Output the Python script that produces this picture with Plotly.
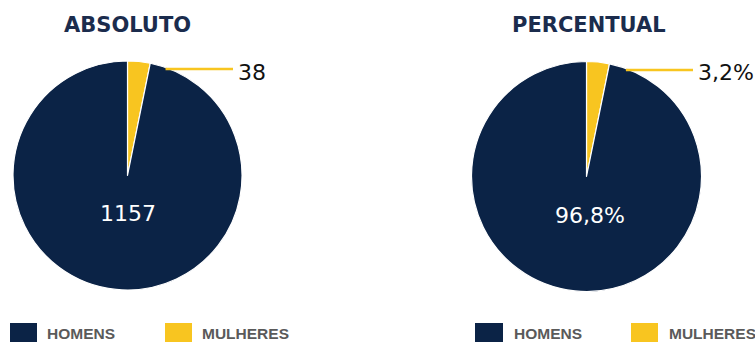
import math
import plotly.graph_objects as go

W, H = 755, 342

categories = ["MULHERES", "HOMENS"]
abs_values = [38, 1157]
pct_values = [3.2, 96.8]
pct_labels = ["3,2%", "96,8%"]
titles = ["ABSOLUTO", "PERCENTUAL"]
colors = ["#f8c520", "#0b2346"]
title_color = "#1b2c4d"
legend_text_color = "#5a5a5a"
FONT = "DejaVu Sans, Arial, sans-serif"
LEG_FONT = "Liberation Sans, Arial, sans-serif"

# pie geometry in pixels: (cx, cy, r)
pies = [(127.5, 175.5, 114.5), (586.5, 176.5, 115.0)]


def px(x):
    return x / W


def py(y):
    return 1 - y / H


fig = go.Figure()

value_texts = [[str(v) for v in abs_values], pct_labels]
for i, vals in enumerate([abs_values, pct_values]):
    cx, cy, r = pies[i]
    fig.add_trace(go.Pie(
        labels=categories,
        values=vals,
        text=value_texts[i],
        textinfo="none",
        sort=False,
        direction="clockwise",
        rotation=0,
        marker=dict(colors=colors, line=dict(color="white", width=1.2)),
        domain=dict(x=[px(cx - r), px(cx + r)], y=[py(cy + r), py(cy - r)]),
        showlegend=False,
        hoverinfo="label+text",
    ))

shapes = []
annotations = []

# titles
title_pos = [(127, 24.5), (589, 25)]
for t, (tx, ty) in zip(titles, title_pos):
    annotations.append(dict(x=px(tx), y=py(ty), xref="paper", yref="paper",
                            text=f"<b>{t}</b>", showarrow=False,
                            font=dict(family=FONT, size=21, color=title_color),
                            xanchor="center", yanchor="middle"))

# big-slice labels inside the pie
big_offsets = [(0.5, 38), (3.5, 39)]
for i in range(2):
    cx, cy, r = pies[i]
    dx, dy = big_offsets[i]
    annotations.append(dict(x=px(cx + dx), y=py(cy + dy), xref="paper", yref="paper",
                            text=value_texts[i][1], showarrow=False,
                            font=dict(family=FONT, size=22, color="white"),
                            xanchor="center", yanchor="middle"))

# small-slice labels with horizontal leader line
lead_y = [69, 70]
lead_end = [233, 693]
for i in range(2):
    cx, cy, r = pies[i]
    ly = lead_y[i]
    x0 = cx + math.sqrt(max(r * r - (cy - ly) ** 2, 0))
    shapes.append(dict(type="line", xref="paper", yref="paper",
                       x0=px(x0 - 4), x1=px(lead_end[i]), y0=py(ly), y1=py(ly),
                       line=dict(color=colors[0], width=2.5)))
    annotations.append(dict(x=px(lead_end[i] + 3), y=py(ly + 3), xref="paper", yref="paper",
                            text=value_texts[i][0], showarrow=False,
                            font=dict(family=FONT, size=22, color="#111111"),
                            xanchor="left", yanchor="middle"))

# legends
legend_boxes = [[(10, 37), (165, 192)], [(475, 503), (631, 658)]]
legend_text_x = [[45, 200], [512, 667]]
for g in range(2):
    for k, cat in enumerate(["HOMENS", "MULHERES"]):
        col = colors[1] if cat == "HOMENS" else colors[0]
        x0, x1 = legend_boxes[g][k]
        shapes.append(dict(type="rect", xref="paper", yref="paper",
                           x0=px(x0), x1=px(x1), y0=py(346), y1=py(323),
                           fillcolor=col, line=dict(width=0)))
        annotations.append(dict(x=px(legend_text_x[g][k]), y=py(333),
                                xref="paper", yref="paper", text=f"<b>{cat}</b>",
                                showarrow=False,
                                font=dict(family=LEG_FONT, size=15.5, color=legend_text_color),
                                xanchor="left", yanchor="middle"))

fig.update_layout(
    width=W, height=H,
    margin=dict(l=0, r=0, t=0, b=0),
    paper_bgcolor="white", plot_bgcolor="white",
    shapes=shapes, annotations=annotations,
    showlegend=False,
)

fig.write_html("out.html")
